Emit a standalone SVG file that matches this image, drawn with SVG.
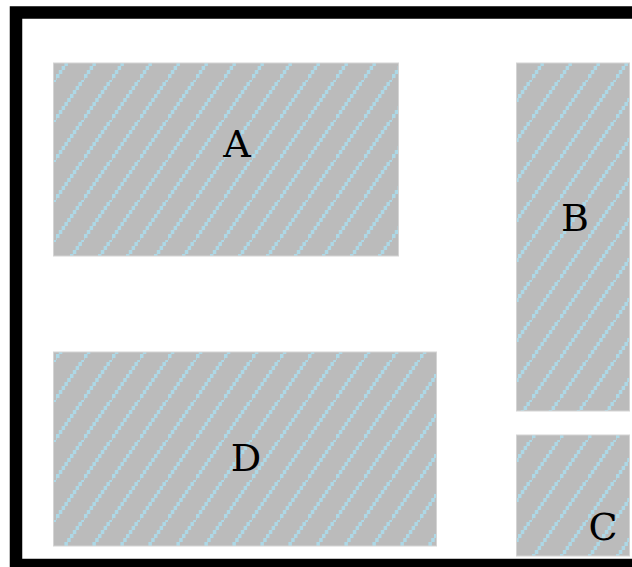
<svg xmlns="http://www.w3.org/2000/svg" width="632" height="567" viewBox="0 0 632 567">
  <style>
    .room { fill: url(#hatch); stroke: #d4d4d4; stroke-width: 1; }
    .label { font-family: "DejaVu Serif", "Liberation Serif", serif; font-size: 38px; fill: #000; text-anchor: middle; }
  </style>
  <defs>
    <pattern id="hatch" patternUnits="userSpaceOnUse" x="0" y="0" width="28" height="40">
      <rect width="28" height="40" fill="#bbbbbb"/>
      <g fill="#add8e6">
        <rect x="-2.8" y="38" width="3.5" height="4"/>
        <rect x="0" y="34" width="3.5" height="4"/>
        <rect x="2.8" y="30" width="3.5" height="4"/>
        <rect x="5.6" y="26" width="3.5" height="4"/>
        <rect x="8.4" y="22" width="3.5" height="4"/>
        <rect x="11.2" y="18" width="3.5" height="4"/>
        <rect x="14" y="14" width="3.5" height="4"/>
        <rect x="16.8" y="10" width="3.5" height="4"/>
        <rect x="19.6" y="6" width="3.5" height="4"/>
        <rect x="22.4" y="2" width="3.5" height="4"/>
        <rect x="25.2" y="-2" width="3.5" height="4"/>
        <rect x="28" y="-6" width="3.5" height="4"/>
      </g>
    </pattern>
  </defs>
  <rect width="632" height="567" fill="#ffffff"/>
  <rect x="16" y="12.5" width="700" height="552.5" fill="none" stroke="#000" stroke-width="12.5"/>
  <g id="A">
    <rect class="room" x="53.5" y="63" width="345" height="193"/>
    <text class="label" x="237" y="157">A</text>
  </g>
  <g id="B">
    <rect class="room" x="516.5" y="63" width="113" height="348"/>
    <text class="label" x="575" y="231">B</text>
  </g>
  <g id="C">
    <rect class="room" x="516.5" y="435" width="113" height="121"/>
    <text class="label" x="603" y="540">C</text>
  </g>
  <g id="D">
    <rect class="room" x="53.5" y="352" width="383" height="194"/>
    <text class="label" x="246" y="471">D</text>
  </g>
  <g id="connectors"/>
</svg>
